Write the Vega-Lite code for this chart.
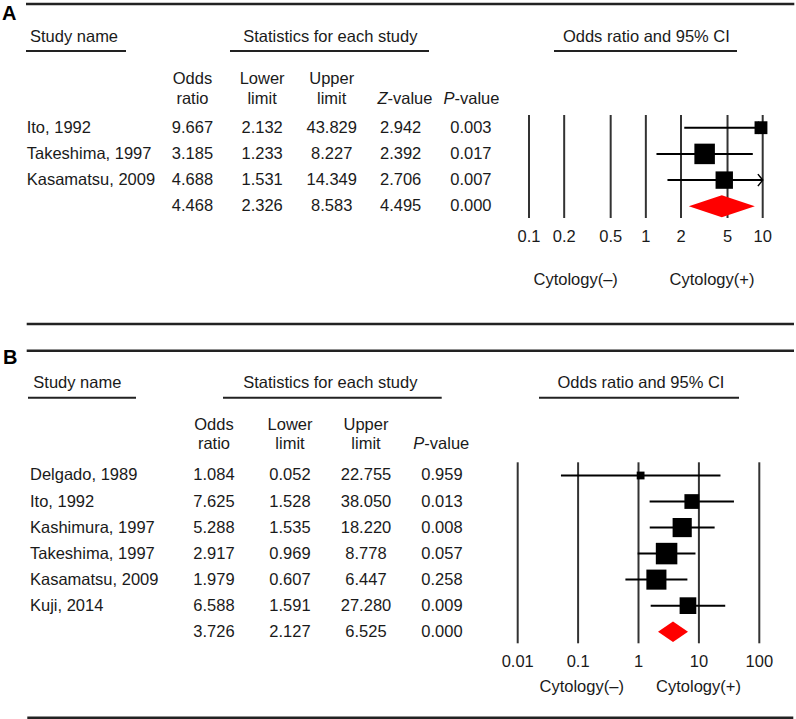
{
"$schema": "https://vega.github.io/schema/vega-lite/v6.json",
"padding": 0, "spacing": 0, "bounds": "flush", "background": "white",
"config": {"view": {"stroke": null}, "axis": {"disable": true}, "legend": {"disable": true},
  "text": {"font": "Liberation Sans", "fontSize": 16.5, "color": "#1a1a1a", "baseline": "middle"},
  "rule": {"color": "#222222"}},
"resolve": {"scale": {"size": "independent"}},
"datasets": {
  "one": [{}],
  "a": [
    {"study": "Ito, 1992", "or": 9.667, "lower": 2.132, "upper": 43.829, "z": 2.942, "p": 0.003, "weight": 18.6, "kind": "study"},
    {"study": "Takeshima, 1997", "or": 3.185, "lower": 1.233, "upper": 8.227, "z": 2.392, "p": 0.017, "weight": 47.3, "kind": "study"},
    {"study": "Kasamatsu, 2009", "or": 4.688, "lower": 1.531, "upper": 14.349, "z": 2.706, "p": 0.007, "weight": 34.0, "kind": "study"},
    {"study": "", "or": 4.468, "lower": 2.326, "upper": 8.583, "z": 4.495, "p": 0.0, "weight": 100, "kind": "summary"}],
  "b": [
    {"study": "Delgado, 1989", "or": 1.084, "lower": 0.052, "upper": 22.755, "p": 0.959, "weight": 3.4, "kind": "study"},
    {"study": "Ito, 1992", "or": 7.625, "lower": 1.528, "upper": 38.05, "p": 0.013, "weight": 12.15, "kind": "study"},
    {"study": "Kashimura, 1997", "or": 5.288, "lower": 1.535, "upper": 18.22, "p": 0.008, "weight": 20.52, "kind": "study"},
    {"study": "Takeshima, 1997", "or": 2.917, "lower": 0.969, "upper": 8.778, "p": 0.057, "weight": 25.87, "kind": "study"},
    {"study": "Kasamatsu, 2009", "or": 1.979, "lower": 0.607, "upper": 6.447, "p": 0.258, "weight": 22.5, "kind": "study"},
    {"study": "Kuji, 2014", "or": 6.588, "lower": 1.591, "upper": 27.28, "p": 0.009, "weight": 15.56, "kind": "study"},
    {"study": "", "or": 3.726, "lower": 2.127, "upper": 6.525, "p": 0.0, "weight": 100, "kind": "summary"}],
  "ticksA": [{"v": 0.1}, {"v": 0.2}, {"v": 0.5}, {"v": 1}, {"v": 2}, {"v": 5}, {"v": 10}],
  "ticksB": [{"v": 0.01}, {"v": 0.1}, {"v": 1}, {"v": 10}, {"v": 100}]
},
"vconcat": [
{
  "width": 796, "height": 336,
  "resolve": {"scale": {"x": "independent"}},
  "layer": [
    {"layer": [
      {"data": {"name": "one"}, "mark": {"type": "rule", "strokeWidth": 2.5}, "encoding": {"x": {"datum": -1.3922, "type": "quantitative", "scale": {"domain": [-1.7658, 9.671], "nice": false, "zero": false}}, "x2": {"datum": 9.6466}, "y": {"datum": -3.7214, "type": "quantitative", "scale": {"domain": [-3.874, 8.9504], "reverse": true, "nice": false, "zero": false}}}},
      {"data": {"name": "one"}, "mark": {"type": "rule", "strokeWidth": 2.5}, "encoding": {"x": {"datum": -1.3822, "type": "quantitative", "scale": {"domain": [-1.7658, 9.671], "nice": false, "zero": false}}, "x2": {"datum": 9.6422}, "y": {"datum": 8.4924, "type": "quantitative", "scale": {"domain": [-3.874, 8.9504], "reverse": true, "nice": false, "zero": false}}}},
      {"data": {"name": "one"}, "mark": {"type": "rule", "strokeWidth": 2}, "encoding": {"x": {"datum": -1.3922, "type": "quantitative", "scale": {"domain": [-1.7658, 9.671], "nice": false, "zero": false}}, "x2": {"datum": 0.0445}, "y": {"datum": -1.9275, "type": "quantitative", "scale": {"domain": [-3.874, 8.9504], "reverse": true, "nice": false, "zero": false}}}},
      {"data": {"name": "one"}, "mark": {"type": "rule", "strokeWidth": 2}, "encoding": {"x": {"datum": 1.5388, "type": "quantitative", "scale": {"domain": [-1.7658, 9.671], "nice": false, "zero": false}}, "x2": {"datum": 4.398}, "y": {"datum": -1.9275, "type": "quantitative", "scale": {"domain": [-3.874, 8.9504], "reverse": true, "nice": false, "zero": false}}}},
      {"data": {"name": "one"}, "mark": {"type": "rule", "strokeWidth": 2}, "encoding": {"x": {"datum": 6.194, "type": "quantitative", "scale": {"domain": [-1.7658, 9.671], "nice": false, "zero": false}}, "x2": {"datum": 8.8233}, "y": {"datum": -1.9275, "type": "quantitative", "scale": {"domain": [-3.874, 8.9504], "reverse": true, "nice": false, "zero": false}}}},
      {"data": {"name": "one"}, "mark": {"type": "text", "text": "A", "align": "left", "fontSize": 20, "fontWeight": "bold", "color": "#000000"}, "encoding": {"x": {"datum": -1.7371, "type": "quantitative", "scale": {"domain": [-1.7658, 9.671], "nice": false, "zero": false}}, "y": {"datum": -3.3397, "type": "quantitative", "scale": {"domain": [-3.874, 8.9504], "reverse": true, "nice": false, "zero": false}}}},
      {"data": {"name": "one"}, "mark": {"type": "text", "text": "Study name", "align": "left"}, "encoding": {"x": {"datum": -1.3348, "type": "quantitative", "scale": {"domain": [-1.7658, 9.671], "nice": false, "zero": false}}, "y": {"datum": -2.4733, "type": "quantitative", "scale": {"domain": [-3.874, 8.9504], "reverse": true, "nice": false, "zero": false}}}},
      {"data": {"name": "one"}, "mark": {"type": "text", "text": "Statistics for each study", "align": "center"}, "encoding": {"x": {"datum": 2.98, "type": "quantitative", "scale": {"domain": [-1.7658, 9.671], "nice": false, "zero": false}}, "y": {"datum": -2.4733, "type": "quantitative", "scale": {"domain": [-3.874, 8.9504], "reverse": true, "nice": false, "zero": false}}}},
      {"data": {"name": "one"}, "mark": {"type": "text", "text": "Odds ratio and 95% CI", "align": "center"}, "encoding": {"x": {"datum": 7.5216, "type": "quantitative", "scale": {"domain": [-1.7658, 9.671], "nice": false, "zero": false}}, "y": {"datum": -2.4733, "type": "quantitative", "scale": {"domain": [-3.874, 8.9504], "reverse": true, "nice": false, "zero": false}}}},
      {"data": {"name": "one"}, "mark": {"type": "text", "text": "Odds", "align": "center"}, "encoding": {"x": {"datum": 1, "type": "quantitative", "scale": {"domain": [-1.7658, 9.671], "nice": false, "zero": false}}, "y": {"datum": -0.8397, "type": "quantitative", "scale": {"domain": [-3.874, 8.9504], "reverse": true, "nice": false, "zero": false}}}},
      {"data": {"name": "one"}, "mark": {"type": "text", "text": "ratio", "align": "center"}, "encoding": {"x": {"datum": 1, "type": "quantitative", "scale": {"domain": [-1.7658, 9.671], "nice": false, "zero": false}}, "y": {"datum": -0.0763, "type": "quantitative", "scale": {"domain": [-3.874, 8.9504], "reverse": true, "nice": false, "zero": false}}}},
      {"data": {"name": "one"}, "mark": {"type": "text", "text": "Lower", "align": "center"}, "encoding": {"x": {"datum": 2, "type": "quantitative", "scale": {"domain": [-1.7658, 9.671], "nice": false, "zero": false}}, "y": {"datum": -0.8397, "type": "quantitative", "scale": {"domain": [-3.874, 8.9504], "reverse": true, "nice": false, "zero": false}}}},
      {"data": {"name": "one"}, "mark": {"type": "text", "text": "limit", "align": "center"}, "encoding": {"x": {"datum": 2, "type": "quantitative", "scale": {"domain": [-1.7658, 9.671], "nice": false, "zero": false}}, "y": {"datum": -0.0763, "type": "quantitative", "scale": {"domain": [-3.874, 8.9504], "reverse": true, "nice": false, "zero": false}}}},
      {"data": {"name": "one"}, "mark": {"type": "text", "text": "Upper", "align": "center"}, "encoding": {"x": {"datum": 3, "type": "quantitative", "scale": {"domain": [-1.7658, 9.671], "nice": false, "zero": false}}, "y": {"datum": -0.8397, "type": "quantitative", "scale": {"domain": [-3.874, 8.9504], "reverse": true, "nice": false, "zero": false}}}},
      {"data": {"name": "one"}, "mark": {"type": "text", "text": "limit", "align": "center"}, "encoding": {"x": {"datum": 3, "type": "quantitative", "scale": {"domain": [-1.7658, 9.671], "nice": false, "zero": false}}, "y": {"datum": -0.0763, "type": "quantitative", "scale": {"domain": [-3.874, 8.9504], "reverse": true, "nice": false, "zero": false}}}},
      {"data": {"name": "one"}, "mark": {"type": "text", "text": "Z", "align": "right", "fontStyle": "italic"}, "encoding": {"x": {"datum": 3.802, "type": "quantitative", "scale": {"domain": [-1.7658, 9.671], "nice": false, "zero": false}}, "y": {"datum": -0.0763, "type": "quantitative", "scale": {"domain": [-3.874, 8.9504], "reverse": true, "nice": false, "zero": false}}}},
      {"data": {"name": "one"}, "mark": {"type": "text", "text": "-value", "align": "left"}, "encoding": {"x": {"datum": 3.802, "type": "quantitative", "scale": {"domain": [-1.7658, 9.671], "nice": false, "zero": false}}, "y": {"datum": -0.0763, "type": "quantitative", "scale": {"domain": [-3.874, 8.9504], "reverse": true, "nice": false, "zero": false}}}},
      {"data": {"name": "one"}, "mark": {"type": "text", "text": "P", "align": "right", "fontStyle": "italic"}, "encoding": {"x": {"datum": 4.764, "type": "quantitative", "scale": {"domain": [-1.7658, 9.671], "nice": false, "zero": false}}, "y": {"datum": -0.0763, "type": "quantitative", "scale": {"domain": [-3.874, 8.9504], "reverse": true, "nice": false, "zero": false}}}},
      {"data": {"name": "one"}, "mark": {"type": "text", "text": "-value", "align": "left"}, "encoding": {"x": {"datum": 4.764, "type": "quantitative", "scale": {"domain": [-1.7658, 9.671], "nice": false, "zero": false}}, "y": {"datum": -0.0763, "type": "quantitative", "scale": {"domain": [-3.874, 8.9504], "reverse": true, "nice": false, "zero": false}}}},
      {"data": {"name": "one"}, "mark": {"type": "text", "text": "Cytology(–)", "align": "center"}, "encoding": {"x": {"datum": 6.5057, "type": "quantitative", "scale": {"domain": [-1.7658, 9.671], "nice": false, "zero": false}}, "y": {"datum": 6.813, "type": "quantitative", "scale": {"domain": [-3.874, 8.9504], "reverse": true, "nice": false, "zero": false}}}},
      {"data": {"name": "one"}, "mark": {"type": "text", "text": "Cytology(+)", "align": "center"}, "encoding": {"x": {"datum": 8.4641, "type": "quantitative", "scale": {"domain": [-1.7658, 9.671], "nice": false, "zero": false}}, "y": {"datum": 6.813, "type": "quantitative", "scale": {"domain": [-3.874, 8.9504], "reverse": true, "nice": false, "zero": false}}}},
      {"data": {"name": "a"}, "transform": [{"window": [{"op": "row_number", "as": "row"}]}], "mark": {"type": "text", "align": "left"}, "encoding": {"x": {"datum": -1.3822, "type": "quantitative", "scale": {"domain": [-1.7658, 9.671], "nice": false, "zero": false}}, "y": {"field": "row", "type": "quantitative", "scale": {"domain": [-3.874, 8.9504], "reverse": true, "nice": false, "zero": false}}, "text": {"field": "study"}}},
      {"data": {"name": "a"}, "transform": [{"window": [{"op": "row_number", "as": "row"}]}], "mark": {"type": "text", "align": "center"}, "encoding": {"x": {"datum": 1, "type": "quantitative", "scale": {"domain": [-1.7658, 9.671], "nice": false, "zero": false}}, "y": {"field": "row", "type": "quantitative", "scale": {"domain": [-3.874, 8.9504], "reverse": true, "nice": false, "zero": false}}, "text": {"field": "or", "type": "quantitative", "format": ".3f"}}},
      {"data": {"name": "a"}, "transform": [{"window": [{"op": "row_number", "as": "row"}]}], "mark": {"type": "text", "align": "center"}, "encoding": {"x": {"datum": 2, "type": "quantitative", "scale": {"domain": [-1.7658, 9.671], "nice": false, "zero": false}}, "y": {"field": "row", "type": "quantitative", "scale": {"domain": [-3.874, 8.9504], "reverse": true, "nice": false, "zero": false}}, "text": {"field": "lower", "type": "quantitative", "format": ".3f"}}},
      {"data": {"name": "a"}, "transform": [{"window": [{"op": "row_number", "as": "row"}]}], "mark": {"type": "text", "align": "center"}, "encoding": {"x": {"datum": 3, "type": "quantitative", "scale": {"domain": [-1.7658, 9.671], "nice": false, "zero": false}}, "y": {"field": "row", "type": "quantitative", "scale": {"domain": [-3.874, 8.9504], "reverse": true, "nice": false, "zero": false}}, "text": {"field": "upper", "type": "quantitative", "format": ".3f"}}},
      {"data": {"name": "a"}, "transform": [{"window": [{"op": "row_number", "as": "row"}]}], "mark": {"type": "text", "align": "center"}, "encoding": {"x": {"datum": 3.99, "type": "quantitative", "scale": {"domain": [-1.7658, 9.671], "nice": false, "zero": false}}, "y": {"field": "row", "type": "quantitative", "scale": {"domain": [-3.874, 8.9504], "reverse": true, "nice": false, "zero": false}}, "text": {"field": "z", "type": "quantitative", "format": ".3f"}}},
      {"data": {"name": "a"}, "transform": [{"window": [{"op": "row_number", "as": "row"}]}], "mark": {"type": "text", "align": "center"}, "encoding": {"x": {"datum": 5, "type": "quantitative", "scale": {"domain": [-1.7658, 9.671], "nice": false, "zero": false}}, "y": {"field": "row", "type": "quantitative", "scale": {"domain": [-3.874, 8.9504], "reverse": true, "nice": false, "zero": false}}, "text": {"field": "p", "type": "quantitative", "format": ".3f"}}}
    ]},
    {"layer": [
      {"data": {"name": "ticksA"}, "mark": {"type": "rule", "strokeWidth": 2, "color": "#333333"}, "encoding": {"x": {"field": "v", "type": "quantitative", "scale": {"type": "log", "domain": [0.1, 10], "range": [529, 762.7], "clamp": true, "nice": false}}, "y": {"datum": 0.5153, "type": "quantitative", "scale": {"domain": [-3.874, 8.9504], "reverse": true, "nice": false, "zero": false}}, "y2": {"datum": 4.4466}}},
      {"data": {"name": "ticksA"}, "mark": {"type": "text", "align": "center"}, "encoding": {"x": {"field": "v", "type": "quantitative", "scale": {"type": "log", "domain": [0.1, 10], "range": [529, 762.7], "clamp": true, "nice": false}}, "y": {"datum": 5.1718, "type": "quantitative", "scale": {"domain": [-3.874, 8.9504], "reverse": true, "nice": false, "zero": false}}, "text": {"field": "v", "type": "quantitative", "format": "~g"}}},
      {"data": {"name": "a"}, "transform": [{"window": [{"op": "row_number", "as": "row"}]}, {"filter": "datum.kind == 'study'"}], "mark": {"type": "rule", "strokeWidth": 2, "color": "#000000"}, "encoding": {"x": {"field": "lower", "type": "quantitative", "scale": {"type": "log", "domain": [0.1, 10], "range": [529, 762.7], "clamp": true, "nice": false}}, "x2": {"field": "upper"}, "y": {"field": "row", "type": "quantitative", "scale": {"domain": [-3.874, 8.9504], "reverse": true, "nice": false, "zero": false}}}},
      {"data": {"name": "a"}, "transform": [{"window": [{"op": "row_number", "as": "row"}]}, {"filter": "datum.kind == 'study' && datum.upper > 10"}], "mark": {"type": "point", "shape": "M-0.8,-1L0,0L-0.8,1", "filled": false, "size": 144, "strokeWidth": 1.5, "color": "#000000", "opacity": 1}, "encoding": {"x": {"field": "upper", "type": "quantitative", "scale": {"type": "log", "domain": [0.1, 10], "range": [529, 762.7], "clamp": true, "nice": false}}, "y": {"field": "row", "type": "quantitative", "scale": {"domain": [-3.874, 8.9504], "reverse": true, "nice": false, "zero": false}}}},
      {"data": {"name": "a"}, "transform": [{"window": [{"op": "row_number", "as": "row"}]}, {"filter": "datum.kind == 'study'"}], "mark": {"type": "square", "color": "#000000", "opacity": 1}, "encoding": {"x": {"field": "or", "type": "quantitative", "scale": {"type": "log", "domain": [0.1, 10], "range": [529, 762.7], "clamp": true, "nice": false}}, "y": {"field": "row", "type": "quantitative", "scale": {"domain": [-3.874, 8.9504], "reverse": true, "nice": false, "zero": false}}, "size": {"field": "weight", "type": "quantitative", "scale": {"domain": [0, 100], "range": [0, 890]}, "legend": null}}},
      {"data": {"name": "a"}, "transform": [{"window": [{"op": "row_number", "as": "row"}]}, {"filter": "datum.kind == 'summary'"}], "mark": {"type": "point", "shape": "M-1,0L0,-0.3333L1,0L0,0.3333Z", "filled": true, "size": 4356, "color": "#ff0000", "opacity": 1}, "encoding": {"x": {"field": "or", "type": "quantitative", "scale": {"type": "log", "domain": [0.1, 10], "range": [529, 762.7], "clamp": true, "nice": false}}, "y": {"field": "row", "type": "quantitative", "scale": {"domain": [-3.874, 8.9504], "reverse": true, "nice": false, "zero": false}}}}
    ]}
  ]
},
{
  "width": 796, "height": 383,
  "resolve": {"scale": {"x": "independent"}},
  "layer": [
    {"layer": [
      {"data": {"name": "one"}, "mark": {"type": "rule", "strokeWidth": 2.5}, "encoding": {"x": {"datum": -1.4645, "type": "quantitative", "scale": {"domain": [-1.8158, 8.6579], "nice": false, "zero": false}}, "x2": {"datum": 8.6316}, "y": {"datum": -3.7945, "type": "quantitative", "scale": {"domain": [-4.3592, 10.3546], "reverse": true, "nice": false, "zero": false}}}},
      {"data": {"name": "one"}, "mark": {"type": "rule", "strokeWidth": 2.5}, "encoding": {"x": {"datum": -1.4566, "type": "quantitative", "scale": {"domain": [-1.8158, 8.6579], "nice": false, "zero": false}}, "x2": {"datum": 8.6224}, "y": {"datum": 10.3046, "type": "quantitative", "scale": {"domain": [-4.3592, 10.3546], "reverse": true, "nice": false, "zero": false}}}},
      {"data": {"name": "one"}, "mark": {"type": "rule", "strokeWidth": 2}, "encoding": {"x": {"datum": -1.4474, "type": "quantitative", "scale": {"domain": [-1.8158, 8.6579], "nice": false, "zero": false}}, "x2": {"datum": -0.0263}, "y": {"datum": -1.9889, "type": "quantitative", "scale": {"domain": [-4.3592, 10.3546], "reverse": true, "nice": false, "zero": false}}}},
      {"data": {"name": "one"}, "mark": {"type": "rule", "strokeWidth": 2}, "encoding": {"x": {"datum": 1.1184, "type": "quantitative", "scale": {"domain": [-1.8158, 8.6579], "nice": false, "zero": false}}, "x2": {"datum": 3.9961}, "y": {"datum": -1.9889, "type": "quantitative", "scale": {"domain": [-4.3592, 10.3546], "reverse": true, "nice": false, "zero": false}}}},
      {"data": {"name": "one"}, "mark": {"type": "rule", "strokeWidth": 2}, "encoding": {"x": {"datum": 5.2763, "type": "quantitative", "scale": {"domain": [-1.8158, 8.6579], "nice": false, "zero": false}}, "x2": {"datum": 7.9079}, "y": {"datum": -1.9889, "type": "quantitative", "scale": {"domain": [-4.3592, 10.3546], "reverse": true, "nice": false, "zero": false}}}},
      {"data": {"name": "one"}, "mark": {"type": "text", "text": "B", "align": "left", "fontSize": 20, "fontWeight": "bold", "color": "#000000"}, "encoding": {"x": {"datum": -1.7763, "type": "quantitative", "scale": {"domain": [-1.8158, 8.6579], "nice": false, "zero": false}}, "y": {"datum": -3.5332, "type": "quantitative", "scale": {"domain": [-4.3592, 10.3546], "reverse": true, "nice": false, "zero": false}}}},
      {"data": {"name": "one"}, "mark": {"type": "text", "text": "Study name", "align": "left"}, "encoding": {"x": {"datum": -1.3776, "type": "quantitative", "scale": {"domain": [-1.8158, 8.6579], "nice": false, "zero": false}}, "y": {"datum": -2.5651, "type": "quantitative", "scale": {"domain": [-4.3592, 10.3546], "reverse": true, "nice": false, "zero": false}}}},
      {"data": {"name": "one"}, "mark": {"type": "text", "text": "Statistics for each study", "align": "center"}, "encoding": {"x": {"datum": 2.5303, "type": "quantitative", "scale": {"domain": [-1.8158, 8.6579], "nice": false, "zero": false}}, "y": {"datum": -2.5651, "type": "quantitative", "scale": {"domain": [-4.3592, 10.3546], "reverse": true, "nice": false, "zero": false}}}},
      {"data": {"name": "one"}, "mark": {"type": "text", "text": "Odds ratio and 95% CI", "align": "center"}, "encoding": {"x": {"datum": 6.6184, "type": "quantitative", "scale": {"domain": [-1.8158, 8.6579], "nice": false, "zero": false}}, "y": {"datum": -2.5651, "type": "quantitative", "scale": {"domain": [-4.3592, 10.3546], "reverse": true, "nice": false, "zero": false}}}},
      {"data": {"name": "one"}, "mark": {"type": "text", "text": "Odds", "align": "center"}, "encoding": {"x": {"datum": 1, "type": "quantitative", "scale": {"domain": [-1.8158, 8.6579], "nice": false, "zero": false}}, "y": {"datum": -0.9401, "type": "quantitative", "scale": {"domain": [-4.3592, 10.3546], "reverse": true, "nice": false, "zero": false}}}},
      {"data": {"name": "one"}, "mark": {"type": "text", "text": "ratio", "align": "center"}, "encoding": {"x": {"datum": 1, "type": "quantitative", "scale": {"domain": [-1.8158, 8.6579], "nice": false, "zero": false}}, "y": {"datum": -0.1986, "type": "quantitative", "scale": {"domain": [-4.3592, 10.3546], "reverse": true, "nice": false, "zero": false}}}},
      {"data": {"name": "one"}, "mark": {"type": "text", "text": "Lower", "align": "center"}, "encoding": {"x": {"datum": 2, "type": "quantitative", "scale": {"domain": [-1.8158, 8.6579], "nice": false, "zero": false}}, "y": {"datum": -0.9401, "type": "quantitative", "scale": {"domain": [-4.3592, 10.3546], "reverse": true, "nice": false, "zero": false}}}},
      {"data": {"name": "one"}, "mark": {"type": "text", "text": "limit", "align": "center"}, "encoding": {"x": {"datum": 2, "type": "quantitative", "scale": {"domain": [-1.8158, 8.6579], "nice": false, "zero": false}}, "y": {"datum": -0.1986, "type": "quantitative", "scale": {"domain": [-4.3592, 10.3546], "reverse": true, "nice": false, "zero": false}}}},
      {"data": {"name": "one"}, "mark": {"type": "text", "text": "Upper", "align": "center"}, "encoding": {"x": {"datum": 3, "type": "quantitative", "scale": {"domain": [-1.8158, 8.6579], "nice": false, "zero": false}}, "y": {"datum": -0.9401, "type": "quantitative", "scale": {"domain": [-4.3592, 10.3546], "reverse": true, "nice": false, "zero": false}}}},
      {"data": {"name": "one"}, "mark": {"type": "text", "text": "limit", "align": "center"}, "encoding": {"x": {"datum": 3, "type": "quantitative", "scale": {"domain": [-1.8158, 8.6579], "nice": false, "zero": false}}, "y": {"datum": -0.1986, "type": "quantitative", "scale": {"domain": [-4.3592, 10.3546], "reverse": true, "nice": false, "zero": false}}}},
      {"data": {"name": "one"}, "mark": {"type": "text", "text": "P", "align": "right", "fontStyle": "italic"}, "encoding": {"x": {"datum": 3.767, "type": "quantitative", "scale": {"domain": [-1.8158, 8.6579], "nice": false, "zero": false}}, "y": {"datum": -0.1986, "type": "quantitative", "scale": {"domain": [-4.3592, 10.3546], "reverse": true, "nice": false, "zero": false}}}},
      {"data": {"name": "one"}, "mark": {"type": "text", "text": "-value", "align": "left"}, "encoding": {"x": {"datum": 3.767, "type": "quantitative", "scale": {"domain": [-1.8158, 8.6579], "nice": false, "zero": false}}, "y": {"datum": -0.1986, "type": "quantitative", "scale": {"domain": [-4.3592, 10.3546], "reverse": true, "nice": false, "zero": false}}}},
      {"data": {"name": "one"}, "mark": {"type": "text", "text": "Cytology(–)", "align": "center"}, "encoding": {"x": {"datum": 5.8382, "type": "quantitative", "scale": {"domain": [-1.8158, 8.6579], "nice": false, "zero": false}}, "y": {"datum": 9.1137, "type": "quantitative", "scale": {"domain": [-4.3592, 10.3546], "reverse": true, "nice": false, "zero": false}}}},
      {"data": {"name": "one"}, "mark": {"type": "text", "text": "Cytology(+)", "align": "center"}, "encoding": {"x": {"datum": 7.375, "type": "quantitative", "scale": {"domain": [-1.8158, 8.6579], "nice": false, "zero": false}}, "y": {"datum": 9.1137, "type": "quantitative", "scale": {"domain": [-4.3592, 10.3546], "reverse": true, "nice": false, "zero": false}}}},
      {"data": {"name": "b"}, "transform": [{"window": [{"op": "row_number", "as": "row"}]}], "mark": {"type": "text", "align": "left"}, "encoding": {"x": {"datum": -1.4211, "type": "quantitative", "scale": {"domain": [-1.8158, 8.6579], "nice": false, "zero": false}}, "y": {"field": "row", "type": "quantitative", "scale": {"domain": [-4.3592, 10.3546], "reverse": true, "nice": false, "zero": false}}, "text": {"field": "study"}}},
      {"data": {"name": "b"}, "transform": [{"window": [{"op": "row_number", "as": "row"}]}], "mark": {"type": "text", "align": "center"}, "encoding": {"x": {"datum": 1, "type": "quantitative", "scale": {"domain": [-1.8158, 8.6579], "nice": false, "zero": false}}, "y": {"field": "row", "type": "quantitative", "scale": {"domain": [-4.3592, 10.3546], "reverse": true, "nice": false, "zero": false}}, "text": {"field": "or", "type": "quantitative", "format": ".3f"}}},
      {"data": {"name": "b"}, "transform": [{"window": [{"op": "row_number", "as": "row"}]}], "mark": {"type": "text", "align": "center"}, "encoding": {"x": {"datum": 2, "type": "quantitative", "scale": {"domain": [-1.8158, 8.6579], "nice": false, "zero": false}}, "y": {"field": "row", "type": "quantitative", "scale": {"domain": [-4.3592, 10.3546], "reverse": true, "nice": false, "zero": false}}, "text": {"field": "lower", "type": "quantitative", "format": ".3f"}}},
      {"data": {"name": "b"}, "transform": [{"window": [{"op": "row_number", "as": "row"}]}], "mark": {"type": "text", "align": "center"}, "encoding": {"x": {"datum": 3, "type": "quantitative", "scale": {"domain": [-1.8158, 8.6579], "nice": false, "zero": false}}, "y": {"field": "row", "type": "quantitative", "scale": {"domain": [-4.3592, 10.3546], "reverse": true, "nice": false, "zero": false}}, "text": {"field": "upper", "type": "quantitative", "format": ".3f"}}},
      {"data": {"name": "b"}, "transform": [{"window": [{"op": "row_number", "as": "row"}]}], "mark": {"type": "text", "align": "center"}, "encoding": {"x": {"datum": 4, "type": "quantitative", "scale": {"domain": [-1.8158, 8.6579], "nice": false, "zero": false}}, "y": {"field": "row", "type": "quantitative", "scale": {"domain": [-4.3592, 10.3546], "reverse": true, "nice": false, "zero": false}}, "text": {"field": "p", "type": "quantitative", "format": ".3f"}}}
    ]},
    {"layer": [
      {"data": {"name": "ticksB"}, "mark": {"type": "rule", "strokeWidth": 2, "color": "#333333"}, "encoding": {"x": {"field": "v", "type": "quantitative", "scale": {"type": "log", "domain": [0.01, 100], "range": [517.7, 759.3], "clamp": true, "nice": false}}, "y": {"datum": 0.4929, "type": "quantitative", "scale": {"domain": [-4.3592, 10.3546], "reverse": true, "nice": false, "zero": false}}, "y2": {"datum": 7.4464}}},
      {"data": {"name": "ticksB"}, "mark": {"type": "text", "align": "center"}, "encoding": {"x": {"field": "v", "type": "quantitative", "scale": {"type": "log", "domain": [0.01, 100], "range": [517.7, 759.3], "clamp": true, "nice": false}}, "y": {"datum": 8.1648, "type": "quantitative", "scale": {"domain": [-4.3592, 10.3546], "reverse": true, "nice": false, "zero": false}}, "text": {"field": "v", "type": "quantitative", "format": "~g"}}},
      {"data": {"name": "b"}, "transform": [{"window": [{"op": "row_number", "as": "row"}]}, {"filter": "datum.kind == 'study'"}], "mark": {"type": "rule", "strokeWidth": 2, "color": "#000000"}, "encoding": {"x": {"field": "lower", "type": "quantitative", "scale": {"type": "log", "domain": [0.01, 100], "range": [517.7, 759.3], "clamp": true, "nice": false}}, "x2": {"field": "upper"}, "y": {"field": "row", "type": "quantitative", "scale": {"domain": [-4.3592, 10.3546], "reverse": true, "nice": false, "zero": false}}}},
      {"data": {"name": "b"}, "transform": [{"window": [{"op": "row_number", "as": "row"}]}, {"filter": "datum.kind == 'study'"}], "mark": {"type": "square", "color": "#000000", "opacity": 1}, "encoding": {"x": {"field": "or", "type": "quantitative", "scale": {"type": "log", "domain": [0.01, 100], "range": [517.7, 759.3], "clamp": true, "nice": false}}, "y": {"field": "row", "type": "quantitative", "scale": {"domain": [-4.3592, 10.3546], "reverse": true, "nice": false, "zero": false}}, "size": {"field": "weight", "type": "quantitative", "scale": {"domain": [0, 100], "range": [0, 1790]}, "legend": null}}},
      {"data": {"name": "b"}, "transform": [{"window": [{"op": "row_number", "as": "row"}]}, {"filter": "datum.kind == 'summary'"}], "mark": {"type": "point", "shape": "M-1,0L0,-0.68L1,0L0,0.68Z", "filled": true, "size": 900, "color": "#ff0000", "opacity": 1}, "encoding": {"x": {"field": "or", "type": "quantitative", "scale": {"type": "log", "domain": [0.01, 100], "range": [517.7, 759.3], "clamp": true, "nice": false}}, "y": {"field": "row", "type": "quantitative", "scale": {"domain": [-4.3592, 10.3546], "reverse": true, "nice": false, "zero": false}}}}
    ]}
  ]
}
]
}
